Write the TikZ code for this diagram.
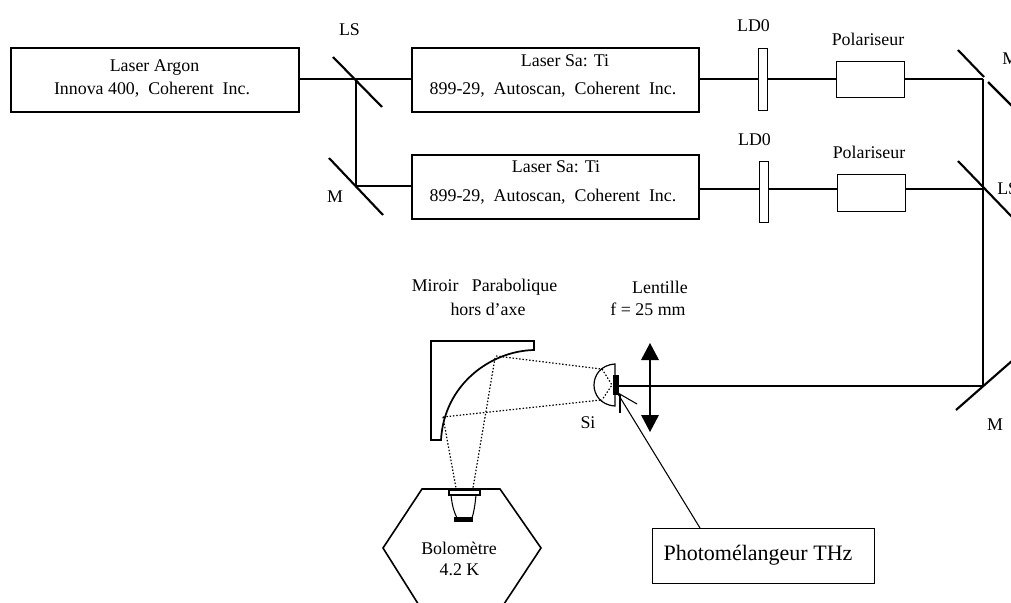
\documentclass[tikz,border=0pt]{standalone}
\usepackage{fontspec}
\setmainfont{Liberation Serif}
\usetikzlibrary{calc}
\tikzset{
  x=0.75pt,y=-0.75pt,
  boxn/.style={draw,line width=1.3pt,inner sep=0pt,anchor=north west},
  boxt/.style={draw,line width=0.9pt,inner sep=0pt,anchor=north west},
  lab/.style={inner sep=0pt,align=center,font=\fontsize{13.4}{16}\selectfont},
  beam/.style={line width=0.8pt},
  mirror/.style={line width=1.6pt},
  dots/.style={line width=0.9pt,dash pattern=on 1.1pt off 1.4pt}
}
\newcommand{\bx}[6]{\node[#6,minimum width=#3*0.75pt,minimum height=#4*0.75pt] (#5) at (#1,#2) {};}
\begin{document}
\begin{tikzpicture}
\useasboundingbox (0,0) rectangle (1011,603);
\clip (0,0) rectangle (1011,603);
% boxes
\bx{10}{47}{288}{64}{argon}{boxn}
\bx{411}{47}{287}{64}{sa1}{boxn}
\bx{411}{154}{287}{64}{sa2}{boxn}
\bx{758}{48}{9}{62}{ld1}{boxt}
\bx{759}{161}{9}{61}{ld2}{boxt}
\bx{836}{61}{68}{36}{pol1}{boxt}
\bx{837}{174}{68}{37}{pol2}{boxt}
\bx{652}{528}{222}{55}{photo}{boxt}
% coordinates
\coordinate (a1) at (356,79);
\coordinate (a2) at (356,186);
\coordinate (b1) at (983,79);
\coordinate (b2) at (983,189);
\coordinate (b3) at (983,386);
\coordinate (det) at (619,386);
% beams
\draw[beam] (argon.east |- a1) -- (a1) -- (sa1.west |- a1);
\draw[beam] (a1) -- (a2) -- (sa2.west |- a2);
\draw[beam] (sa1.east |- 0,79) -- (ld1.west |- 0,79);
\draw[beam] (ld1.east |- 0,79) -- (pol1.west |- 0,79);
\draw[beam] (pol1.east |- b1) -- (b1);
\draw[beam] (sa2.east |- 0,189) -- (ld2.west |- 0,189);
\draw[beam] (ld2.east |- 0,189) -- (pol2.west |- 0,189);
\draw[beam] (pol2.east |- b2) -- (b2);
\draw[beam] (b1) -- (b3) -- (det);
% mirrors
\draw[mirror] (333,57) -- (382,107);
\draw[mirror] (329,158) -- (383,215);
\draw[mirror] (958,50) -- (984,77);
\draw[mirror] (988,82) -- (1013,107);
\draw[mirror] (958,161) -- (1013,218);
\draw[mirror] (956,410) -- (1013,360);
% parabolic mirror
\draw[line width=1.3pt] (431,341) -- (534,341) -- (534,350)
  .. controls (490,351) and (444,385) .. (441,440) -- (431,440) -- cycle;
\draw[dots] (496,356) -- (601,369);
\draw[dots] (443,417) -- (601,400);
\draw[dots] (443,417) -- (456,488);
\draw[dots] (495,358) -- (473,488);
\draw[dots] (602,369) -- (612,385) -- (602,400);
% Si lens
\draw[line width=0.9pt] (615,364) .. controls (600,365) and (594,376) .. (594,385)
  .. controls (594,394) and (600,405) .. (615,406) -- cycle;
\fill (613,375) rectangle (619,395);
% lentille
\draw[beam] (650,358) -- (650,417);
\fill (650,343) -- (659,360) -- (641,360) -- cycle;
\fill (650,432) -- (659,415) -- (641,415) -- cycle;
% pointer
\draw[beam] (618,393) -- (637,404);
\draw[beam] (620,394) -- (620,413);
\draw[beam] (618,394) -- (photo.north west -| 700,0);
% bolometer
\draw[line width=1.2pt] (422,489) -- (500,489) -- (541,548) -- (500,610) -- (422,610) -- (383,548) -- cycle;
\draw[line width=0.8pt] (449,490) rectangle (480,495);
\draw[beam] (451,495) .. controls (452,505) and (454,512) .. (457,518);
\draw[beam] (476,495) .. controls (475,505) and (474,512) .. (472,518);
\fill (454,517) rectangle (473,522);
% labels
\node[lab] (t1a) at (154.5,68) {Laser Argon};
\node[lab] (t1b) at (152,90) {Innova 400,\ \ Coherent\ \ Inc.};
\node[lab] (t2) at (565,61) {Laser Sa: Ti};
\node[lab] (t3) at (553,90) {899-29,\ \ Autoscan,\ \ Coherent\ \ Inc.};
\node[lab] (t4) at (556,167) {Laser Sa: Ti};
\node[lab] (t5) at (553,197) {899-29,\ \ Autoscan,\ \ Coherent\ \ Inc.};
\node[lab] (t6) at (349.5,30) {LS};
\node[lab] (t7) at (335,197) {M};
\node[lab] (t8) at (753.5,26) {LD0};
\node[lab] (t9) at (754.5,140) {LD0};
\node[lab] (t10) at (868,39) {Polariseur};
\node[lab] (t11) at (869,152) {Polariseur};
\node[lab,anchor=west] (t12) at (1002,59) {M};
\node[lab,anchor=west] (t13) at (997,189) {LS};
\node[lab] (t14) at (995,425) {M};
\node[lab] (t15a) at (484.5,287) {Miroir\ \ \ Parabolique};
\node[lab] (t15b) at (488,309) {hors d'axe};
\node[lab] (t16a) at (660,287) {Lentille};
\node[lab] (t16b) at (648,309) {f = 25 mm};
\node[lab] (t17) at (588,423) {Si};
\node[lab] (t18a) at (459,548) {Bolomètre};
\node[lab] (t18b) at (459.5,570) {4.2 K};
\node[inner sep=0pt,font=\fontsize{16.5}{20}\selectfont] (t19) at (758,555) {Photomélangeur THz};
\end{tikzpicture}
\end{document}
